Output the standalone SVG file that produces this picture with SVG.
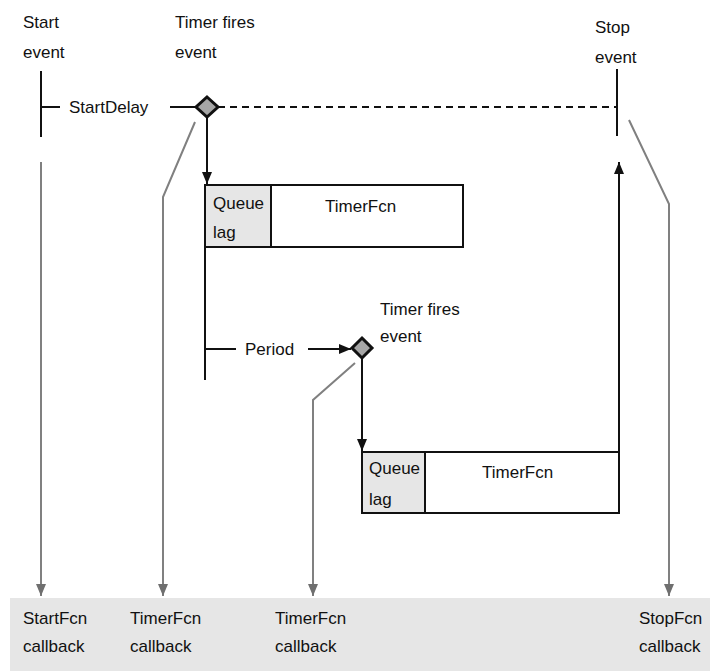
<svg xmlns="http://www.w3.org/2000/svg" width="710" height="671" viewBox="0 0 710 671">
<defs>
<style>
text{font-family:"Liberation Sans","DejaVu Sans",sans-serif;font-size:17px;fill:#111}
.blk{stroke:#111;stroke-width:2;fill:none}
.gry{stroke:#808080;stroke-width:2;fill:none}
.dash{stroke:#111;stroke-width:2;stroke-dasharray:7 5;fill:none}
.dia{fill:#a6a6a6;stroke:#111;stroke-width:3}
.q{fill:#e6e6e6;stroke:#111;stroke-width:2}
.box{fill:#fff;stroke:#111;stroke-width:2}
</style>
<marker id="ab" viewBox="0 0 12 10" refX="12" refY="5" markerWidth="12" markerHeight="10" markerUnits="userSpaceOnUse" orient="auto">
<path d="M0,0 L12,5 L0,10 Z" fill="#111"/>
</marker>
<marker id="ag" viewBox="0 0 12 10" refX="12" refY="5" markerWidth="12" markerHeight="10" markerUnits="userSpaceOnUse" orient="auto">
<path d="M0,0 L12,5 L0,10 Z" fill="#6f6f6f"/>
</marker>
</defs>
<rect x="10" y="598" width="700" height="73" fill="#e6e6e6"/>
<g id="connectors">
<line class="blk" x1="41" y1="71" x2="41" y2="137"/>
<line class="blk" x1="41" y1="107" x2="60" y2="107"/>
<line class="blk" x1="170" y1="107" x2="196" y2="107"/>
<line class="dash" x1="218" y1="107" x2="617" y2="107"/>
<line class="blk" x1="617" y1="69" x2="617" y2="136"/>
<line class="blk" x1="207" y1="118" x2="207" y2="184" marker-end="url(#ab)"/>
<line class="blk" x1="205" y1="247" x2="205" y2="380"/>
<line class="blk" x1="205" y1="349" x2="236" y2="349"/>
<line class="blk" x1="308" y1="349" x2="351" y2="349" marker-end="url(#ab)"/>
<line class="blk" x1="362" y1="358" x2="362" y2="451" marker-end="url(#ab)"/>
<line class="blk" x1="619" y1="451" x2="619" y2="162" marker-end="url(#ab)"/>
<line class="gry" x1="41" y1="162" x2="41" y2="596" marker-end="url(#ag)"/>
<polyline class="gry" points="195,122 163,197 163,596" marker-end="url(#ag)"/>
<polyline class="gry" points="355,363 313,400 313,596" marker-end="url(#ag)"/>
<polyline class="gry" points="629,120 669,204 669,596" marker-end="url(#ag)"/>
</g>
<g id="start-event"><text x="23" y="28">Start</text><text x="23" y="58">event</text></g>
<g id="startdelay"><text x="69" y="113">StartDelay</text></g>
<g id="timer-fires-1">
<polygon class="dia" points="207,97 218,107 207,117 196,107"/>
<text x="175" y="28">Timer fires</text><text x="175" y="58">event</text>
</g>
<g id="stop-event"><text x="595" y="33">Stop</text><text x="595" y="63">event</text></g>
<g id="box1">
<rect class="box" x="205" y="185" width="258" height="62"/>
<rect class="q" x="205" y="185" width="66" height="62"/>
<text x="213" y="209">Queue</text><text x="213" y="238">lag</text>
<text x="325" y="212">TimerFcn</text>
</g>
<g id="period"><text x="245" y="355">Period</text></g>
<g id="timer-fires-2">
<polygon class="dia" points="362,338 372,348 362,358 352,348"/>
<text x="380" y="315">Timer fires</text><text x="380" y="342">event</text>
</g>
<g id="box2">
<rect class="box" x="362" y="452" width="257" height="61"/>
<rect class="q" x="362" y="452" width="63" height="61"/>
<text x="369" y="474">Queue</text><text x="369" y="505">lag</text>
<text x="482" y="478">TimerFcn</text>
</g>
<g id="startfcn-callback"><text x="23" y="624">StartFcn</text><text x="23" y="652">callback</text></g>
<g id="timerfcn-callback-1"><text x="130" y="624">TimerFcn</text><text x="130" y="652">callback</text></g>
<g id="timerfcn-callback-2"><text x="275" y="624">TimerFcn</text><text x="275" y="652">callback</text></g>
<g id="stopfcn-callback"><text x="639" y="624">StopFcn</text><text x="639" y="652">callback</text></g>
</svg>
